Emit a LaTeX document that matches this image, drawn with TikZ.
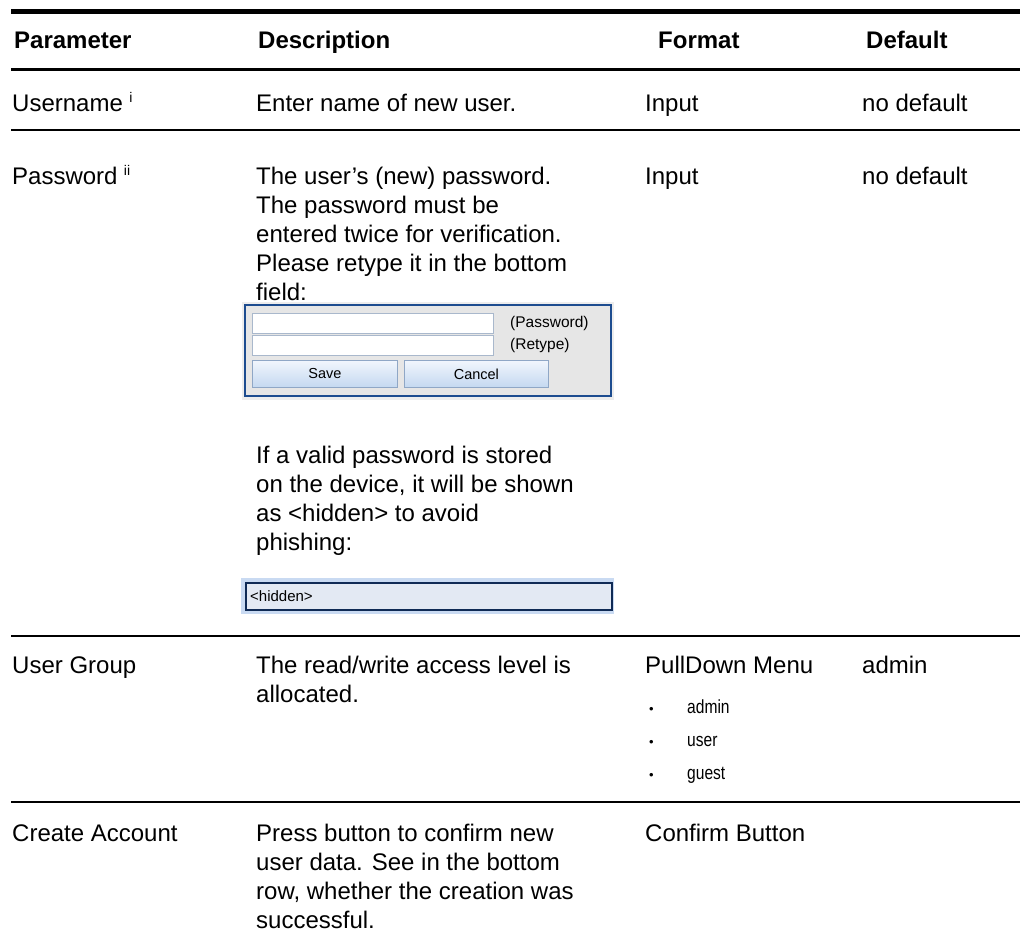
\documentclass[tikz,border=0pt]{standalone}
\usepackage{fontspec}
\setmainfont{Liberation Sans}
\newfontfamily\narrowfont[FakeStretch=0.82]{Liberation Sans}
\definecolor{widgetblue}{HTML}{1D4C8F}
\definecolor{widgetgray}{HTML}{E6E6E6}
\definecolor{fieldedge}{HTML}{A9B8CC}
\definecolor{btntop}{HTML}{F1F6FD}
\definecolor{btnbot}{HTML}{C4D8F0}
\definecolor{btnedge}{HTML}{8FA7C6}
\definecolor{hidfill}{HTML}{E3E9F3}
\definecolor{hidhalo}{HTML}{C9DAF2}
\definecolor{hidedge}{HTML}{0F2A55}
\tikzset{
  cell/.style={anchor=base west, inner sep=0pt, font=\fontsize{24}{29}\selectfont},
  head/.style={cell, font=\fontsize{24}{29}\selectfont\bfseries},
  para/.style={anchor=north west, inner sep=0pt, align=left, font=\fontsize{24}{29}\selectfont},
  supmark/.style={anchor=base west, inner sep=0pt, font=\fontsize{14}{14}\selectfont},
  toprule/.style={line width=4.5pt},
  midrule/.style={line width=3pt},
  rowrule/.style={line width=2pt},
  field/.style={draw=fieldedge, fill=white, line width=0.8pt, anchor=north west, inner sep=0pt,
                minimum width=241pt, minimum height=20pt},
  btn/.style={draw=btnedge, line width=0.8pt, top color=btntop, bottom color=btnbot,
              anchor=north west, inner sep=0pt, minimum height=27pt, font=\fontsize{14.5}{15}\selectfont},
  uitext/.style={inner sep=0pt, anchor=west, font=\fontsize{15.5}{16}\selectfont},
  item/.style={anchor=base west, inner sep=0pt, font=\narrowfont\fontsize{19}{20}\selectfont},
  dot/.style={anchor=base west, inner sep=0pt, font=\fontsize{13}{13}\selectfont},
}
\begin{document}
\begin{tikzpicture}[x=1pt,y=-1pt]
\useasboundingbox (0,0) rectangle (1020,946);

% horizontal rules of the table
\coordinate (t0l) at (11,11.5);   \coordinate (t0r) at (1020,11.5);
\coordinate (t1l) at (11,69.5);   \coordinate (t1r) at (1020,69.5);
\coordinate (t2l) at (11,130);    \coordinate (t2r) at (1020,130);
\coordinate (t3l) at (11,636);    \coordinate (t3r) at (1020,636);
\coordinate (t4l) at (11,802);    \coordinate (t4r) at (1020,802);
\draw[toprule] (t0l) -- (t0r);
\draw[midrule] (t1l) -- (t1r);
\draw[rowrule] (t2l) -- (t2r);
\draw[rowrule] (t3l) -- (t3r);
\draw[rowrule] (t4l) -- (t4r);

% header
\node[head] (hpar) at (14,48) {Parameter};
\node[head] (hdes) at (258,48) {Description};
\node[head] (hfmt) at (658,48) {Format};
\node[head] (hdef) at (866,48) {Default};

% row: Username
\node[cell] (user) at (12,111) {Username};
\node[supmark] (usersup) at ([xshift=6pt,yshift=9pt]user.base east) {i};
\node[cell] (userdesc) at (256,111) {Enter name of new user.};
\node[cell] (userfmt) at (645,111) {Input};
\node[cell] (userdef) at (862,111) {no default};

% row: Password
\node[cell] (pw) at (12,184) {Password};
\node[supmark] (pwsup) at ([xshift=6pt,yshift=9pt]pw.base east) {ii};
\node[para] (pwdesc) at (256,166.5) {The user’s (new) password.\\The password must be\\entered twice for verification.\\Please retype it in the bottom\\field:};
\node[cell] (pwfmt) at (645,184) {Input};
\node[cell] (pwdef) at (862,184) {no default};

% password entry widget
\fill[widgetgray!70] (242,302) rectangle (614,400);
\draw[draw=widgetblue, fill=widgetgray, line width=2.5pt] (245,305) rectangle (611,396);
\node[field] (pwfield) at (252,313) {};
\node[field] (rtfield) at (252,335) {};
\node[uitext] (pwlabel) at (510,323) {(Password)};
\node[uitext] (rtlabel) at (510,345) {(Retype)};
\node[btn, minimum width=145pt] (save) at (252,360) {Save};
\node[btn, minimum width=144pt] (cancel) at (404,360) {Cancel};

\node[para] (pwnote) at (256,446) {If a valid password is stored\\on the device, it will be shown\\as <hidden> to avoid\\phishing:};

% hidden password field
\fill[hidhalo] (241,578) rectangle (614,614);
\node[draw=hidedge, fill=hidfill, line width=2pt, minimum width=366pt, minimum height=27pt,
      anchor=north west, inner sep=0pt] (hidden) at (245,582) {};
\node[uitext, font=\fontsize{15}{16}\selectfont] (hiddentext) at (250,596) {<hidden>};

% row: User Group
\node[cell] (grp) at (12,673) {User Group};
\node[para] (grpdesc) at (256,655.5) {The read/write access level is\\allocated.};
\node[cell] (grpfmt) at (645,673) {PullDown Menu};
\node[cell] (grpdef) at (862,673) {admin};
\node[dot] (b1) at (649,713) {•};
\node[item] (i1) at (687,713) {admin};
\node[dot] (b2) at (649,746) {•};
\node[item] (i2) at (687,746) {user};
\node[dot] (b3) at (649,779) {•};
\node[item] (i3) at (687,779) {guest};

% row: Create Account
\node[cell] (acc) at (12,841) {Create Account};
\node[para] (accdesc) at (256,823.5) {Press button to confirm new\\user data. See in the bottom\\row, whether the creation was\\successful.};
\node[cell] (accfmt) at (645,841) {Confirm Button};
\end{tikzpicture}
\end{document}
